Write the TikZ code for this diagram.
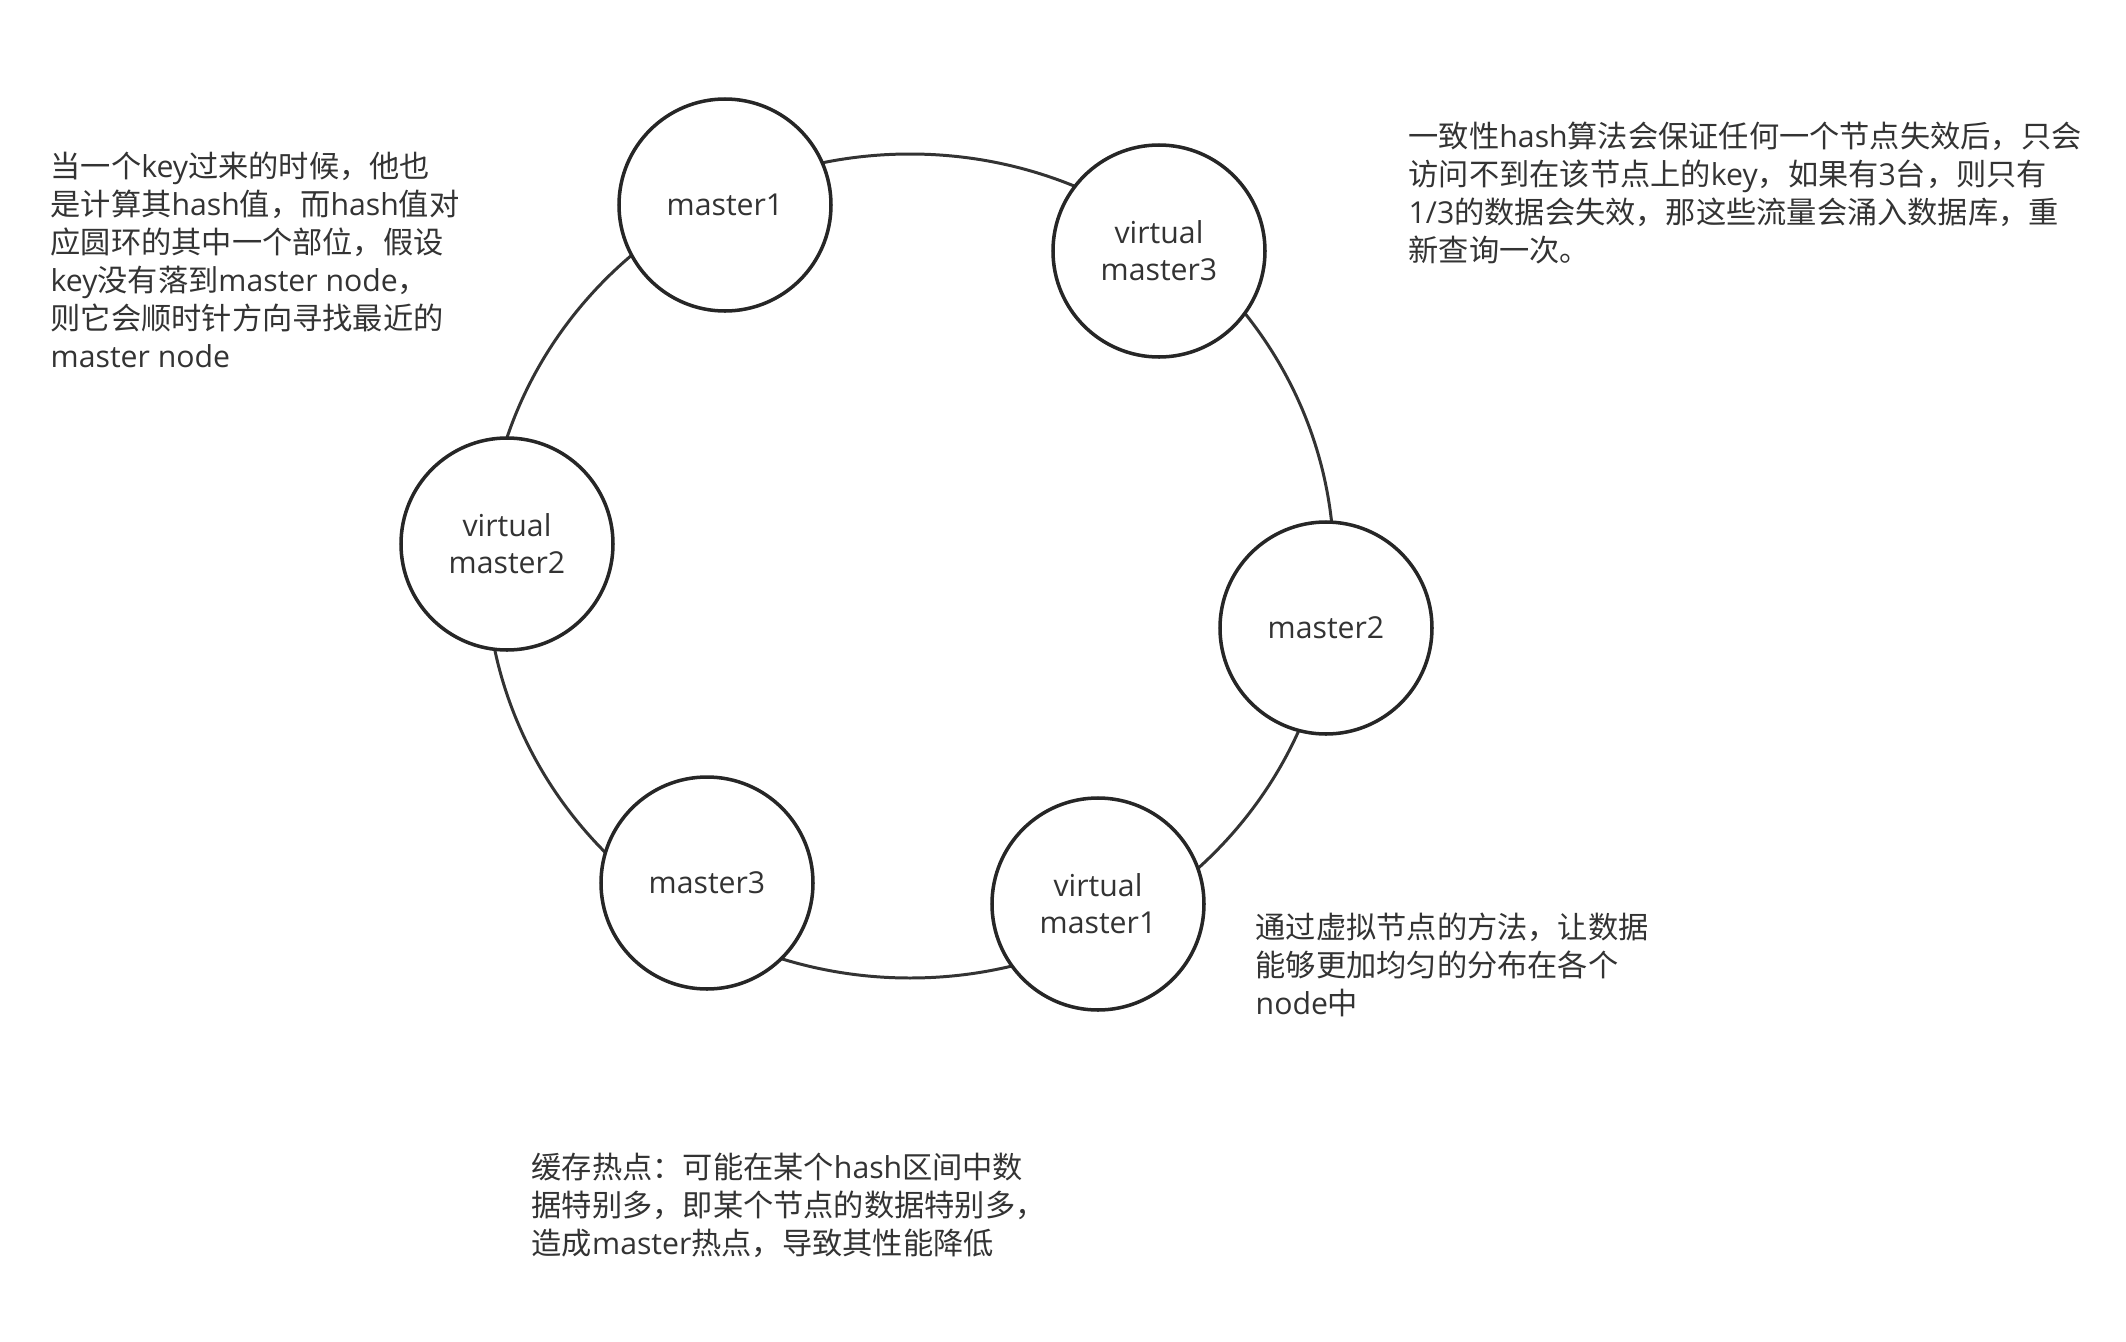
\documentclass[tikz,border=0pt]{standalone}
\usepackage{fontspec}
\setmainfont{Open Sans}
\newfontfamily\cjkfont{Noto Sans CJK SC}

\XeTeXinterchartokenstate=1
\newXeTeXintercharclass\cjkchars
\newcount\cjkcode
\def\markcjk#1#2{\cjkcode=#1\relax
  \loop\XeTeXcharclass\cjkcode=\cjkchars
  \ifnum\cjkcode<#2\advance\cjkcode by 1\repeat}
\markcjk{"3000}{"303F}
\markcjk{"4E00}{"9FFF}
\markcjk{"FF00}{"FFEF}
\XeTeXinterchartoks 0 \cjkchars = {\begingroup\cjkfont}
\XeTeXinterchartoks 4095 \cjkchars = {\begingroup\cjkfont}
\XeTeXinterchartoks \cjkchars 0 = {\endgroup}
\XeTeXinterchartoks \cjkchars 4095 = {\endgroup}

\begin{document}
\begin{tikzpicture}[
    ring/.style = {
      draw = black!80,
      line width = 0.85pt
    },
    server/.style = {
      draw = black!85,
      line width = 1pt,
      fill = white,
      circle,
      inner sep = 0pt,
      minimum size = 2.12cm,
      align = center,
      text = black!80,
      font = \fontsize{8.6}{10.5}\selectfont
    },
    note/.style = {
      anchor = north west,
      inner sep = 0pt,
      align = left,
      text = black!80,
      font = \fontsize{8.6}{10.8}\selectfont
    }
  ]
  \useasboundingbox (0,0) rectangle (21.26,-13.42);

  \draw[ring] (9.10,-5.66) ellipse [x radius = 4.24, y radius = 4.12];

  \node[server] (master1)  at (7.25,-2.05)  {master1};
  \node[server] (vmaster3) at (11.59,-2.51) {virtual\\master3};
  \node[server] (vmaster2) at (5.07,-5.44)  {virtual\\master2};
  \node[server] (master2)  at (13.26,-6.28) {master2};
  \node[server] (master3)  at (7.07,-8.83)  {master3};
  \node[server] (vmaster1) at (10.98,-9.04) {virtual\\master1};

  \node[note] (lookup) at (0.50,-1.51) {当一个key过来的时候，他也\\是计算其hash值，而hash值对\\应圆环的其中一个部位，假设\\key没有落到master node，\\则它会顺时针方向寻找最近的\\master node};
  \node[note] (failure) at (14.08,-1.21) {一致性hash算法会保证任何一个节点失效后，只会\\访问不到在该节点上的key，如果有3台，则只有\\1/3的数据会失效，那这些流量会涌入数据库，重\\新查询一次。};
  \node[note] (virtual) at (12.55,-9.12) {通过虚拟节点的方法，让数据\\能够更加均匀的分布在各个\\node中};
  \node[note] (hotspot) at (5.31,-11.52) {缓存热点：可能在某个hash区间中数\\据特别多，即某个节点的数据特别多，\\造成master热点，导致其性能降低};
\end{tikzpicture}
\end{document}
